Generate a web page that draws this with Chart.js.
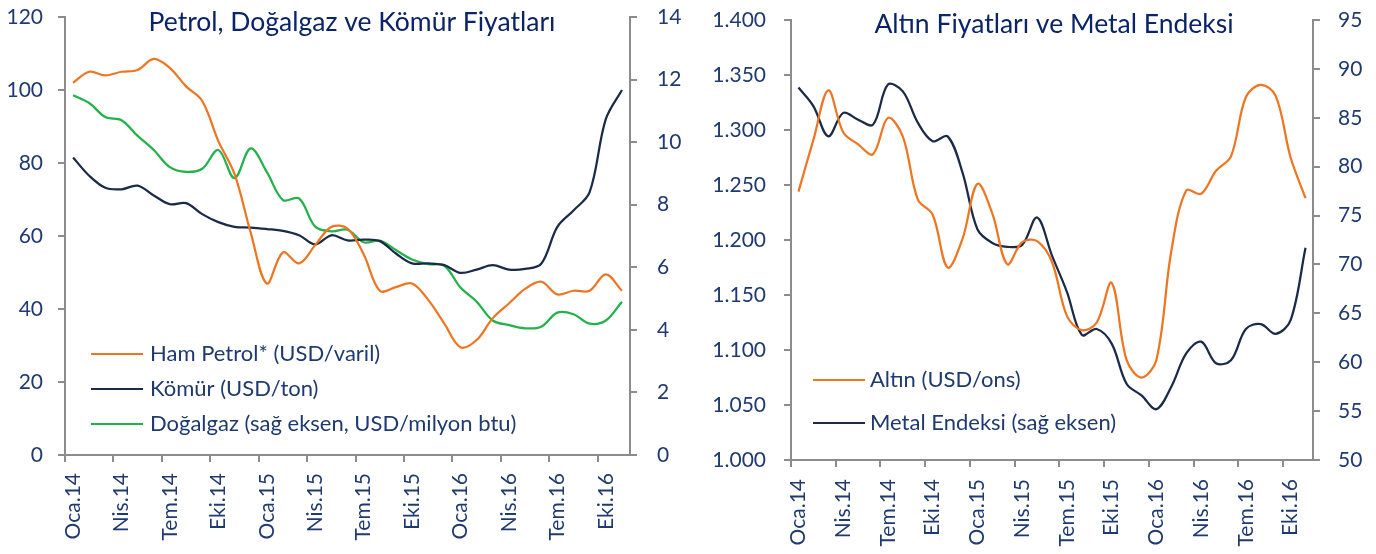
<!DOCTYPE html>
<html>
<head>
<meta charset="utf-8">
<script src="https://cdn.jsdelivr.net/npm/chart.js@4.4.1/dist/chart.umd.min.js"></script>
<style>
  html, body { margin: 0; padding: 0; background: #fff; }
  #left  { position: absolute; left: 0;     top: 0; width: 690px; height: 554px; }
  #right { position: absolute; left: 690px; top: 0; width: 686px; height: 554px; }
</style>
</head>
<body>
<div id="left"><canvas id="chartEnergy"></canvas></div>
<div id="right"><canvas id="chartGold"></canvas></div>
<script>
// aylar (Ocak 2014 - Kasım 2016)
const months = [
  'Oca.14','Şub.14','Mar.14','Nis.14','May.14','Haz.14','Tem.14','Ağu.14','Eyl.14','Eki.14','Kas.14','Ara.14',
  'Oca.15','Şub.15','Mar.15','Nis.15','May.15','Haz.15','Tem.15','Ağu.15','Eyl.15','Eki.15','Kas.15','Ara.15',
  'Oca.16','Şub.16','Mar.16','Nis.16','May.16','Haz.16','Tem.16','Ağu.16','Eyl.16','Eki.16','Kas.16'
];

// sol grafik
const oilPrice = [102, 105, 104, 105, 105.5, 108.5, 106, 101, 97, 86, 77, 61,
                  47, 55.5, 52.5, 57.5, 62.5, 62, 55, 45, 46, 47, 42.5, 36,
                  29.5, 31.5, 37.5, 41.5, 45.5, 47.5, 44, 45, 45, 49.5, 45];
const coalPrice = [81.5, 76.5, 73.2, 72.8, 73.8, 71.1, 68.7, 69, 66, 63.8, 62.5, 62.3,
                   61.9, 61.4, 60.2, 57.7, 60.2, 58.8, 59, 58.6, 55.2, 52.5, 52.5, 52,
                   49.9, 50.8, 52, 50.8, 51, 52.4, 62.5, 67, 72, 92, 100];
const gasPrice = [11.5, 11.25, 10.8, 10.7, 10.2, 9.75, 9.2, 9.05, 9.15, 9.75, 8.85, 9.8,
                  9.05, 8.15, 8.2, 7.3, 7.15, 7.2, 6.8, 6.85, 6.55, 6.25, 6.1, 6.05,
                  5.35, 4.9, 4.3, 4.15, 4.05, 4.1, 4.55, 4.5, 4.2, 4.3, 4.9];

// sağ grafik
const goldPrice = [1244, 1291, 1336, 1298, 1287, 1278, 1311, 1294, 1237, 1223, 1175, 1201,
                   1251, 1224, 1178, 1198, 1199, 1180, 1131, 1118, 1125, 1161, 1091, 1075,
                   1091, 1190, 1245, 1242, 1263, 1276, 1330, 1341, 1331, 1275, 1238];
const metalIndex = [88.1, 86.2, 83.1, 85.5, 84.8, 84.3, 88.4, 87.7, 84.5, 82.6, 83.1, 79.4,
                    73.6, 72.2, 71.8, 72.0, 74.8, 70.9, 67.2, 62.8, 63.4, 61.9, 57.8, 56.6,
                    55.2, 57.5, 60.9, 62.1, 59.9, 60.2, 63.4, 63.9, 62.9, 64.3, 71.7];

const textColor = '#1F3A70';
const titleColor = '#0B2468';
const axisGray = '#8C8C8C';
const orange = '#EE7623';
const navy = '#1A2A48';
const green = '#22B24C';

// başlık grafiğin içine çiziliyor (Excel gibi)
const boxTitle = {
  id: 'boxTitle',
  afterDraw(chart, args, opts) {
    const ctx = chart.ctx;
    ctx.save();
    ctx.font = opts.font;
    ctx.fillStyle = opts.color;
    ctx.textAlign = 'center';
    ctx.textBaseline = 'middle';
    ctx.fillText(opts.text, opts.x, opts.y);
    ctx.restore();
  }
};

// lejant da grafik alanının içinde
const boxLegend = {
  id: 'boxLegend',
  afterDraw(chart, args, opts) {
    const ctx = chart.ctx;
    ctx.save();
    ctx.font = opts.font;
    ctx.textAlign = 'left';
    ctx.textBaseline = 'middle';
    chart.data.datasets.forEach((ds, i) => {
      const y = opts.rows[i];
      ctx.strokeStyle = ds.borderColor;
      ctx.lineWidth = 2;
      ctx.beginPath();
      ctx.moveTo(opts.x, y);
      ctx.lineTo(opts.x + opts.lineLen, y);
      ctx.stroke();
      ctx.fillStyle = opts.color;
      ctx.fillText(ds.label, opts.textX, y);
    });
    ctx.restore();
  }
};

function monthAxis(height, pad) {
  return {
    type: 'category',
    offset: true,
    grid: {
      offset: true,
      drawOnChartArea: false,
      tickLength: 7,
      lineWidth: 2,
      color: c => (c.index % 3 === 0 ? axisGray : 'rgba(0,0,0,0)')
    },
    border: { color: axisGray, width: 2 },
    ticks: {
      autoSkip: false,
      minRotation: 90,
      maxRotation: 90,
      padding: pad,
      color: textColor,
      font: { family: 'Lato', size: 21 },
      callback: (v, i) => (i % 3 === 0 ? months[i] : '')
    },
    afterFit: s => { s.height = height; }
  };
}

function valueAxis(pos, min, max, step, width, pad, fmt) {
  return {
    position: pos,
    min: min,
    max: max,
    grid: { drawOnChartArea: false, tickLength: 7, lineWidth: 2, color: axisGray },
    border: { color: axisGray, width: 2 },
    ticks: {
      stepSize: step,
      padding: pad,
      color: textColor,
      font: { family: 'Lato', size: 21 },
      callback: fmt || (v => v)
    },
    // genişlik sabit, üst/alt boşluğu layout.padding belirlesin
    afterFit: s => { s.width = width; s.paddingTop = 0; s.paddingBottom = 0; }
  };
}

function lineSet(label, data, color, axis) {
  return {
    label: label,
    data: data,
    borderColor: color,
    backgroundColor: color,
    borderWidth: 2.25,
    pointRadius: 0,
    tension: 0.35,
    fill: false,
    yAxisID: axis
  };
}

new Chart(document.getElementById('chartEnergy'), {
  type: 'line',
  data: {
    labels: months,
    datasets: [
      lineSet('Ham Petrol* (USD/varil)', oilPrice, orange, 'y'),
      lineSet('Kömür (USD/ton)', coalPrice, navy, 'y'),
      lineSet('Doğalgaz (sağ eksen, USD/milyon btu)', gasPrice, green, 'y1')
    ]
  },
  options: {
    responsive: true,
    maintainAspectRatio: false,
    animation: false,
    layout: { padding: { top: 17, left: 0, right: 0, bottom: 0 } },
    scales: {
      x: monthAxis(99, 11),
      y: valueAxis('left', 0, 120, 20, 65, 15),
      y1: valueAxis('right', 0, 14, 2, 60, 20)
    },
    plugins: {
      legend: { display: false },
      tooltip: { enabled: false },
      boxTitle: { text: 'Petrol, Doğalgaz ve Kömür Fiyatları', x: 352, y: 22, font: '26.5px Lato', color: titleColor },
      boxLegend: { x: 91, lineLen: 52, textX: 150, rows: [354, 389, 424], font: '22px Lato', color: textColor }
    }
  },
  plugins: [boxTitle, boxLegend]
});

new Chart(document.getElementById('chartGold'), {
  type: 'line',
  data: {
    labels: months,
    datasets: [
      lineSet('Altın (USD/ons)', goldPrice, orange, 'y'),
      lineSet('Metal Endeksi (sağ eksen)', metalIndex, navy, 'y1')
    ]
  },
  options: {
    responsive: true,
    maintainAspectRatio: false,
    animation: false,
    layout: { padding: { top: 20, left: 0, right: 0, bottom: 0 } },
    scales: {
      x: monthAxis(94, 12),
      y: valueAxis('left', 1000, 1400, 50, 101, 18, v => (v / 1000).toFixed(3)),
      y1: valueAxis('right', 50, 95, 5, 63, 18)
    },
    plugins: {
      legend: { display: false },
      tooltip: { enabled: false },
      boxTitle: { text: 'Altın Fiyatları ve Metal Endeksi', x: 364, y: 24, font: '26.5px Lato', color: titleColor },
      boxLegend: { x: 123, lineLen: 52, textX: 180, rows: [380, 423], font: '22px Lato', color: textColor }
    }
  },
  plugins: [boxTitle, boxLegend]
});
</script>
</body>
</html>
